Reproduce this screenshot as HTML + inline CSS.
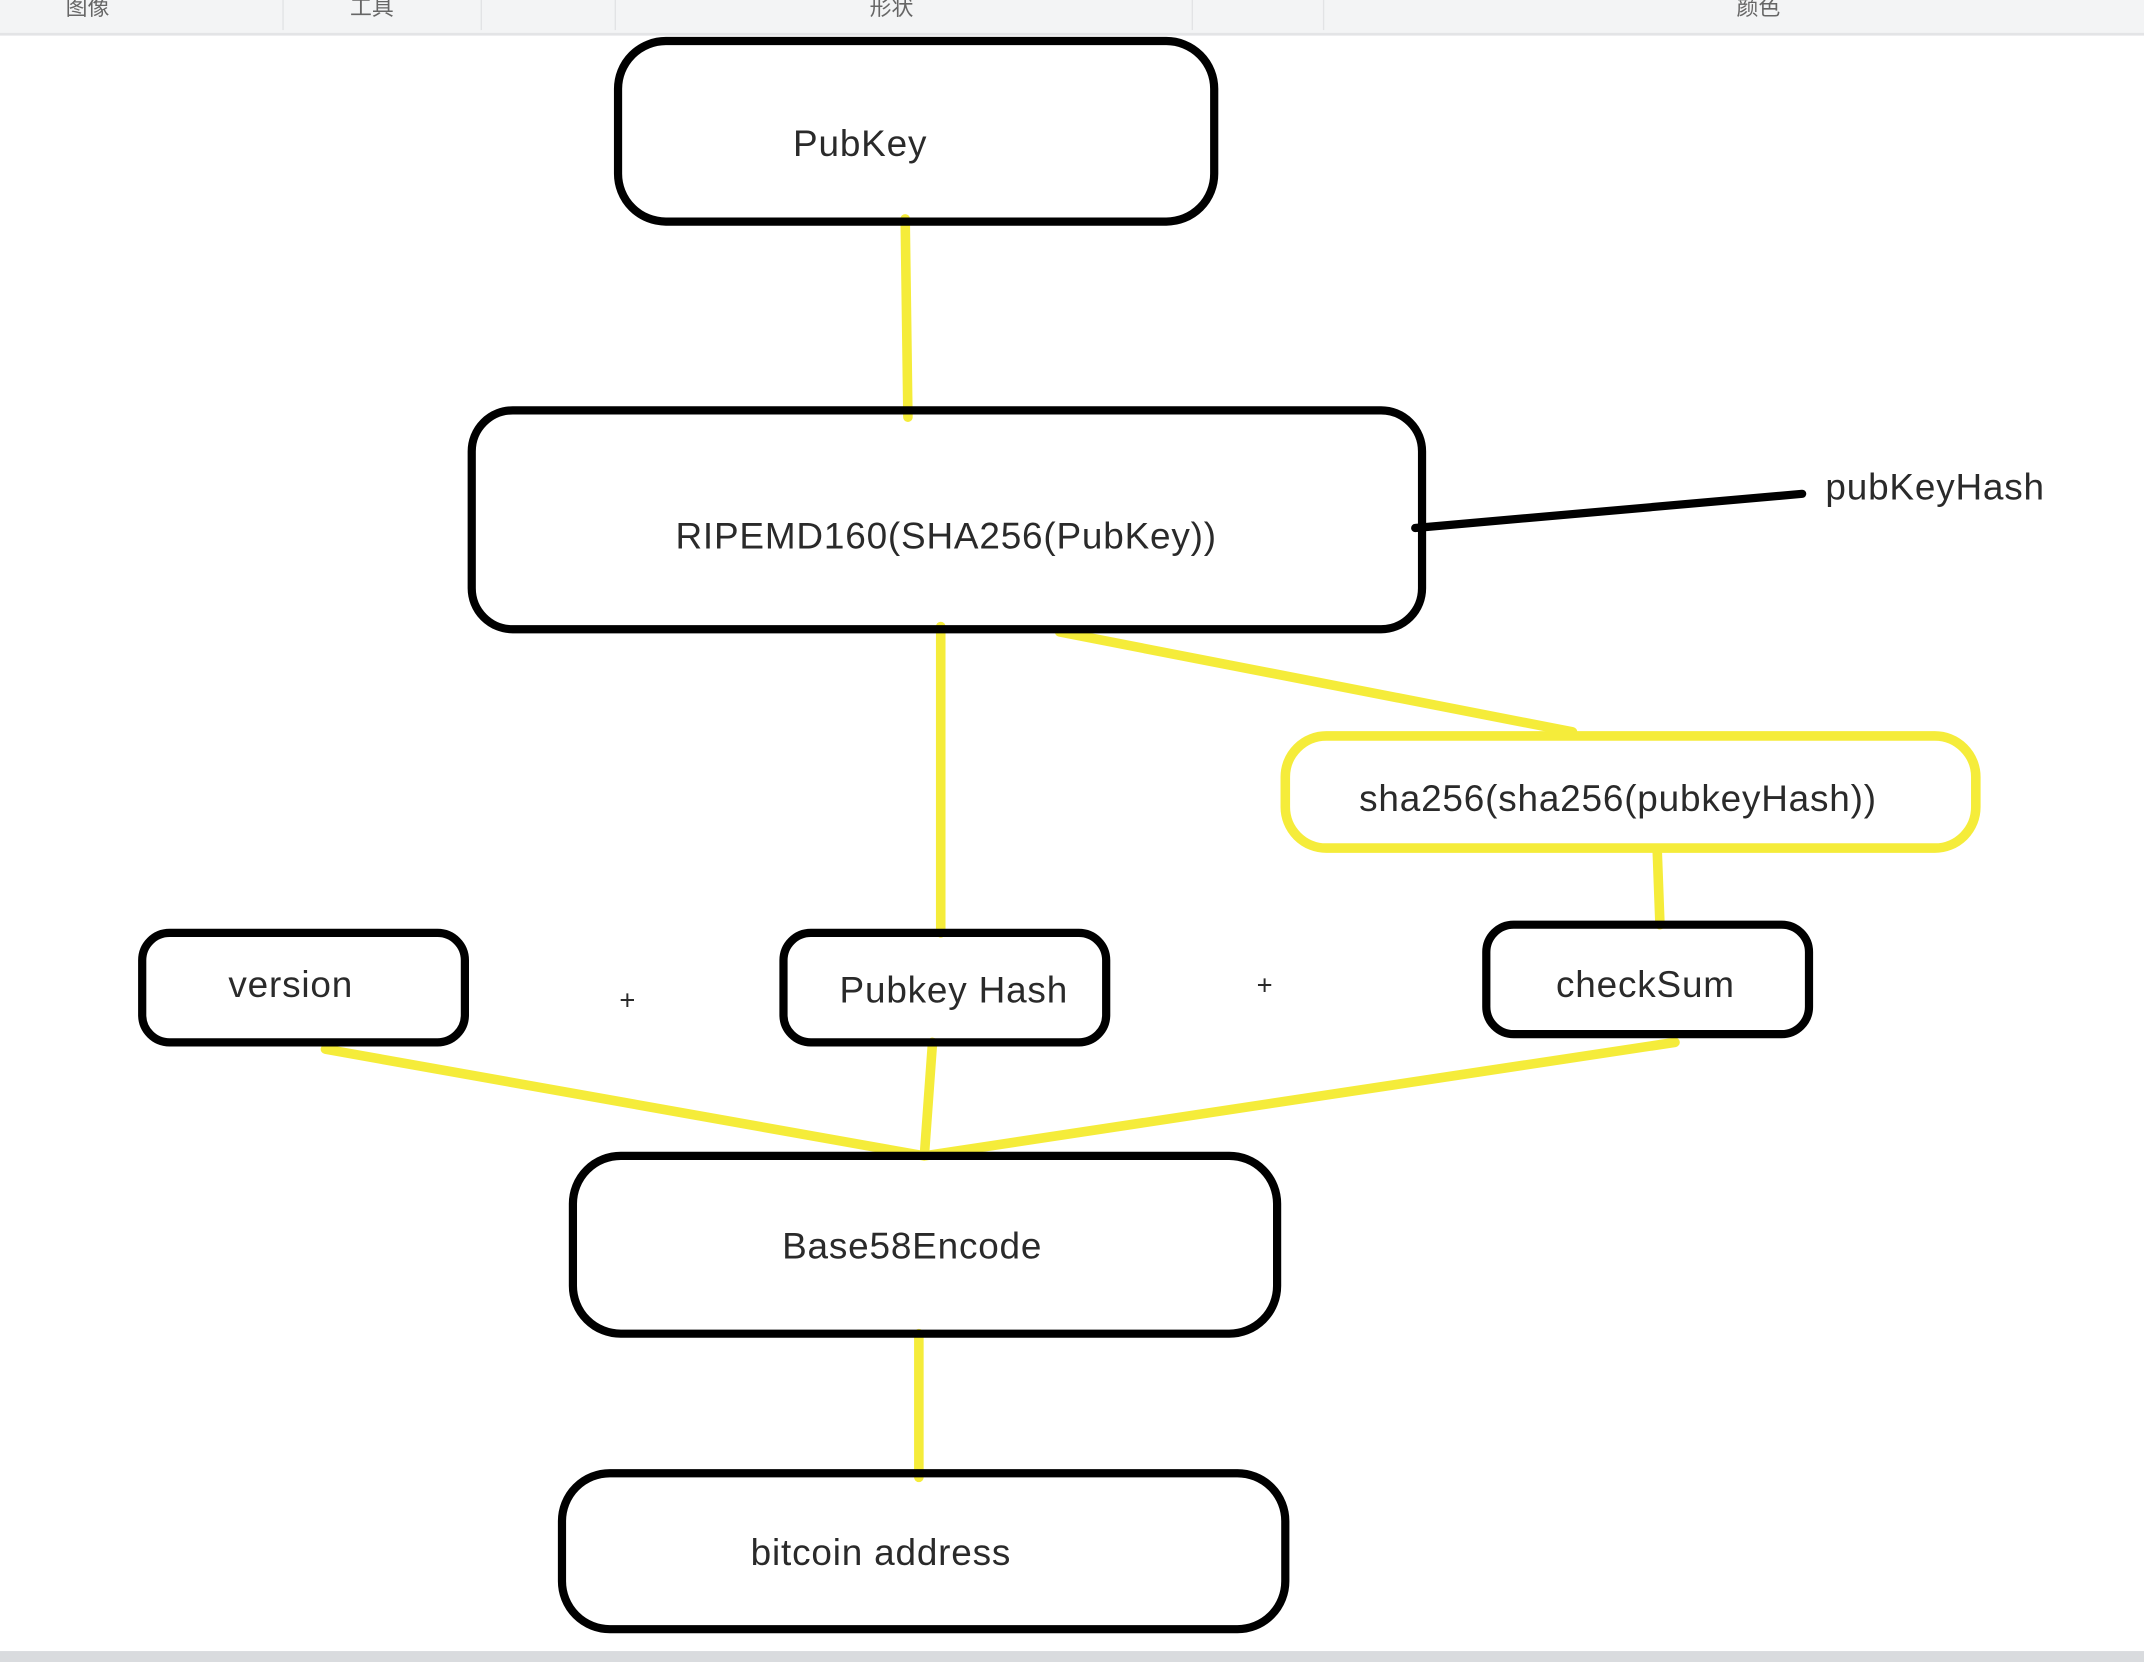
<!DOCTYPE html>
<html><head><meta charset="utf-8"><style>
html,body{margin:0;padding:0;background:#fff;width:2144px;height:1662px;overflow:hidden}
svg{display:block}
text{font-family:"Liberation Sans","Noto Sans CJK SC",sans-serif;fill:#2a2a2a}
</style></head><body>
<svg width="2144" height="1662" viewBox="0 0 1568 1215" preserveAspectRatio="none">
<rect x="0" y="0" width="1568" height="25" fill="#f3f4f5"/>
<line x1="0" y1="25" x2="1568" y2="25" stroke="#e3e4e6" stroke-width="2"/>
<g stroke="#e2e3e5" stroke-width="1">
<line x1="207" y1="0" x2="207" y2="22"/><line x1="352" y1="0" x2="352" y2="22"/>
<line x1="450" y1="0" x2="450" y2="22"/><line x1="872" y1="0" x2="872" y2="22"/>
<line x1="968" y1="0" x2="968" y2="22"/></g>
<g font-size="16"><text x="48" y="11" style="fill:#666">图像</text><text x="256" y="11" style="fill:#666">工具</text><text x="636" y="11" style="fill:#666">形状</text><text x="1270" y="11" style="fill:#666">颜色</text></g>
<rect x="0" y="1207" width="1568" height="8" fill="#d9dbde"/>

<g stroke="#f5ec3a" stroke-width="7" fill="none" stroke-linecap="round">
<line x1="662" y1="160" x2="664" y2="305"/>
<line x1="688" y1="458" x2="688" y2="682"/>
<line x1="775" y1="462" x2="1150" y2="535"/>
<line x1="1212" y1="622" x2="1214" y2="676"/>
<line x1="238" y1="767" x2="676" y2="845"/>
<line x1="682" y1="762" x2="676" y2="845"/>
<line x1="1225" y1="762" x2="676" y2="845"/>
<line x1="672" y1="975" x2="672" y2="1080"/>
<rect x="940" y="538" width="505" height="82" rx="30"/>
</g>
<line x1="1035" y1="386" x2="1318" y2="361" stroke="#000" stroke-width="6" stroke-linecap="round"/>
<g stroke="#000" stroke-width="6" fill="none">
<rect x="452" y="30" width="436" height="132" rx="35"/>
<rect x="345" y="300" width="695" height="160" rx="30"/>
<rect x="104" y="682" width="236" height="80" rx="20"/>
<rect x="573" y="682" width="236" height="80" rx="20"/>
<rect x="1087" y="676" width="236" height="80" rx="20"/>
<rect x="419" y="845" width="515" height="130" rx="35"/>
<rect x="411" y="1077" width="529" height="114" rx="35"/>
</g>
<g font-size="27" letter-spacing="0.6">
<text x="580" y="114">PubKey</text>
<text x="494" y="401">RIPEMD160(SHA256(PubKey))</text>
<text x="1335" y="365">pubKeyHash</text>
<text x="994" y="593">sha256(sha256(pubkeyHash))</text>
<text x="167" y="729">version</text>
<text x="614" y="733">Pubkey Hash</text>
<text x="1138" y="729">checkSum</text>
<text x="572" y="920">Base58Encode</text>
<text x="549" y="1144">bitcoin address</text>
<text x="453" y="738" font-size="20">+</text>
<text x="919" y="727" font-size="20">+</text>
</g>
</svg>
</body></html>
